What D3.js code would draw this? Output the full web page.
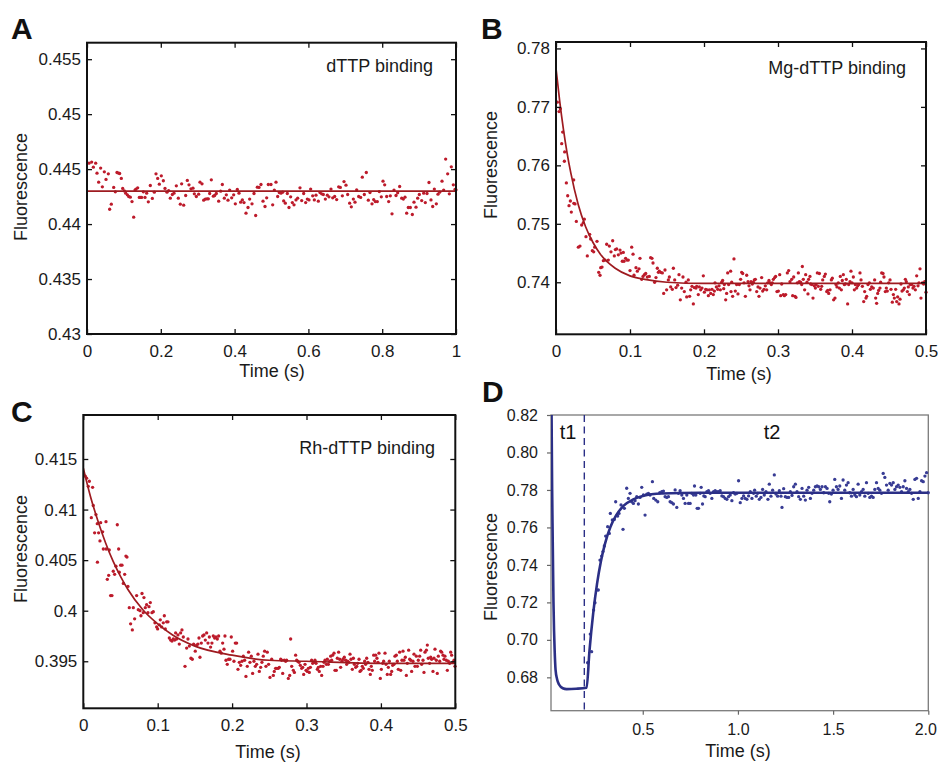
<!DOCTYPE html>
<html><head><meta charset="utf-8">
<script src="https://cdn.jsdelivr.net/npm/d3@7"></script>
<style>
body{margin:0;background:#fff}
svg{display:block}
text{font-family:"Liberation Sans",Arial,Helvetica,sans-serif}
</style>
</head><body>
<svg id="chart" width="938" height="762"></svg>
<script>
// ---------------- DATA ----------------
// Panel A : dTTP binding
const aTime = [0.0054,0.0126,0.0172,0.0235,0.0271,0.0316,0.0370,0.0416,0.0470,0.0515,
0.0578,0.0614,0.0659,0.0723,0.0768,0.0813,0.0858,0.0885,0.0930,0.0967,
0.1012,0.1048,0.1093,0.1129,0.1174,0.1220,0.1265,0.1301,0.1328,0.1373,
0.1418,0.1454,0.1481,0.1527,0.1572,0.1617,0.1662,0.1716,0.1771,0.1825,
0.1870,0.1915,0.1960,0.2014,0.2069,0.2114,0.2168,0.2213,0.2258,0.2313,
0.2358,0.2421,0.2475,0.2529,0.2565,0.2620,0.2674,0.2719,0.2764,0.2818,
0.2873,0.2909,0.2963,0.3026,0.3062,0.3117,0.3162,0.3207,0.3252,0.3288,
0.3324,0.3369,0.3424,0.3460,0.3505,0.3568,0.3622,0.3668,0.3722,0.3776,
0.3821,0.3866,0.3921,0.3975,0.4020,0.4074,0.4119,0.4164,0.4210,0.4255,
0.4309,0.4363,0.4408,0.4472,0.4526,0.4571,0.4616,0.4661,0.4715,0.4770,
0.4824,0.4869,0.4914,
0.4986,0.5032,0.5077,0.5122,0.5167,0.5212,0.5257,0.5303,0.5330,0.5375,
0.5429,0.5474,0.5519,0.5565,0.5610,0.5664,0.5709,0.5772,0.5818,0.5872,
0.5926,0.5971,0.6016,0.6061,0.6116,0.6161,0.6206,0.6269,0.6314,0.6359,
0.6405,0.6459,0.6513,0.6558,0.6612,0.6658,0.6712,0.6766,0.6820,0.6865,
0.6920,0.6965,0.7019,0.7064,0.7118,0.7163,0.7218,0.7263,0.7308,0.7362,
0.7416,0.7461,0.7516,0.7570,0.7624,0.7669,0.7724,0.7769,0.7814,0.7868,
0.7922,0.7976,0.8022,0.8067,0.8121,0.8175,0.8220,0.8266,0.8320,0.8374,
0.8419,0.8473,0.8528,0.8573,0.8618,0.8663,0.8708,0.8762,0.8817,0.8862,
0.8916,0.8961,0.9006,0.9070,0.9124,0.9169,0.9214,0.9268,0.9322,0.9368,
0.9413,0.9467,0.9512,0.9557,0.9621,0.9666,0.9720,0.9774,0.9819,0.9873,
0.9928,0.9973,1.0000];
const aFluor = [0.44554,0.44564,0.44518,0.44554,0.44463,0.44381,0.44509,0.44339,0.44475,0.44406,
0.44457,0.44135,0.44181,0.44333,0.44293,0.44469,0.44463,0.44460,0.44415,0.44324,
0.44302,0.44281,0.44266,0.44251,0.44245,0.44205,0.44063,0.44309,0.44318,0.44330,
0.44242,0.44242,0.44242,0.44293,0.44242,0.44281,0.44202,0.44351,0.44233,0.44290,
0.44457,0.44415,0.44363,0.44439,0.44394,0.44324,0.44290,0.44305,0.44236,0.44269,
0.44281,0.44348,0.44236,0.44181,0.44366,0.44172,0.44260,0.44397,0.44357,0.44321,
0.44327,0.44275,0.44251,0.44272,0.44381,0.44366,0.44217,0.44227,0.44230,0.44230,
0.44278,0.44403,0.44254,0.44260,0.44278,0.44208,0.44299,0.44360,0.44236,0.44266,
0.44217,0.44309,0.44239,0.44266,0.44184,0.44315,0.44281,0.44199,0.44220,0.44196,
0.44099,0.44151,0.44227,0.44184,0.44278,0.44078,0.44336,0.44333,0.44360,0.44208,
0.44160,0.44239,0.44360,
0.44360,0.44175,0.44309,0.44381,0.44251,0.44287,0.44281,0.44290,0.44211,0.44190,
0.44278,0.44151,0.44248,0.44196,0.44175,0.44220,0.44236,0.44330,0.44214,0.44278,
0.44196,0.44227,0.44220,0.44318,0.44257,0.44220,0.44263,0.44208,0.44287,0.44275,
0.44269,0.44227,0.44263,0.44248,0.44318,0.44239,0.44251,0.44223,0.44339,0.44333,
0.44257,0.44387,0.44354,0.44269,0.44190,0.44157,0.44227,0.44199,0.44312,0.44251,
0.44242,0.44427,0.44269,0.44469,0.44217,0.44287,0.44184,0.44223,0.44205,0.44205,
0.44296,0.44248,0.44390,0.44357,0.44251,0.44205,0.44257,0.44093,0.44309,0.44260,
0.44284,0.44342,0.44236,0.44227,0.44245,0.44099,0.44151,0.44151,0.44087,0.44199,
0.44154,0.44236,0.44269,0.44214,0.44281,0.44196,0.44278,0.44378,0.44220,0.44160,
0.44318,0.44184,0.44272,0.44290,0.44390,0.44309,0.44591,0.44457,0.44275,0.44521,
0.44357,0.44315,0.44312];
const aFitTime = [0, 1];
const aFitFluor = [0.443, 0.443];
const aXTicks = [0, 0.2, 0.4, 0.6, 0.8, 1];
const aYTicks = [0.43, 0.435, 0.44, 0.445, 0.45, 0.455];

// Panel B : Mg-dTTP binding
const bTime = [0.0018,0.0041,0.0059,0.0077,0.0090,0.0113,0.0117,0.0140,0.0158,0.0176,
0.0194,0.0207,0.0239,0.0241,0.0257,0.0275,0.0302,0.0324,0.0347,0.0369,
0.0383,0.0405,0.0423,0.0455,0.0468,0.0491,0.0509,0.0523,0.0554,0.0577,
0.0595,0.0604,0.0622,0.0640,0.0662,0.0685,0.0707,0.0721,0.0743,0.0766,
0.0788,0.0802,0.0820,0.0842,0.0865,0.0878,0.0896,0.0910,0.0919,0.0941,
0.0959,0.0977,0.1000,0.1023,0.1041,0.1054,0.1081,0.1099,0.1122,0.1135,
0.1158,0.1176,0.1194,0.1212,0.1234,0.1261,0.1279,0.1297,0.1311,0.1333,
0.1351,0.1369,0.1383,0.1396,0.1414,0.1437,0.1455,0.1473,0.1495,0.1518,
0.1532,0.1550,0.1572,0.1586,0.1604,0.1622,0.1644,0.1662,0.1680,0.1698,
0.1716,0.1734,0.1757,0.1766,0.1788,0.1806,0.1820,0.1838,0.1856,0.1869,
0.1892,0.1901,0.1923,0.1937,0.1955,0.1973,0.1991,0.2005,0.2023,0.2041,
0.2059,0.2072,0.2090,0.2108,0.2126,0.2140,0.2149,0.2167,0.2185,0.2203,
0.2221,0.2239,0.2252,0.2266,0.2275,0.2293,0.2306,0.2320,0.2333,
0.2360,0.2365,0.2374,0.2387,0.2405,0.2423,0.2441,0.2459,0.2477,0.2495,
0.2509,0.2523,0.2541,0.2559,0.2577,0.2595,0.2608,0.2622,0.2635,0.2653,
0.2667,0.2680,0.2694,0.2712,0.2730,0.2743,0.2757,0.2779,0.2793,0.2811,
0.2829,0.2847,0.2860,0.2878,0.2892,0.2910,0.2923,0.2937,0.2955,0.2968,
0.2986,0.3005,0.3023,0.3036,0.3050,0.3072,0.3086,0.3104,0.3126,0.3144,
0.3162,0.3185,0.3198,0.3212,0.3230,0.3243,0.3261,0.3275,0.3288,0.3306,
0.3320,0.3329,0.3342,0.3360,0.3374,0.3392,0.3405,0.3414,0.3432,0.3441,
0.3459,0.3473,0.3491,0.3505,0.3514,0.3532,0.3545,0.3559,0.3577,0.3590,
0.3604,0.3626,0.3640,0.3658,0.3671,0.3685,0.3703,0.3721,0.3734,0.3752,
0.3770,0.3784,0.3797,0.3815,0.3829,0.3842,0.3856,0.3869,0.3883,0.3896,
0.3910,0.3923,0.3941,0.3955,0.3973,0.3986,0.4000,0.4018,0.4032,0.4045,
0.4063,0.4077,0.4090,0.4108,0.4122,0.4140,0.4158,0.4171,0.4189,0.4198,
0.4216,0.4234,0.4248,0.4266,0.4288,0.4306,0.4320,0.4333,0.4347,0.4360,
0.4378,0.4387,0.4401,0.4419,0.4432,0.4450,0.4464,0.4477,0.4495,0.4514,
0.4527,0.4545,0.4559,0.4572,0.4590,0.4604,0.4617,0.4635,0.4649,0.4662,
0.4676,0.4694,0.4707,0.4721,0.4734,0.4748,0.4761,0.4775,0.4788,0.4806,
0.4824,0.4838,0.4856,0.4874,0.4892,0.4905,0.4919,0.4932,0.4950,0.4968,
0.4982,0.5000];
const bFluor = [0.7708,0.7692,0.7697,0.7637,0.7657,0.7607,0.7623,0.7570,0.7548,0.7531,
0.7539,0.7520,0.7575,0.7535,0.7534,0.7504,0.7460,0.7462,0.7498,0.7502,
0.7508,0.7478,0.7445,0.7482,0.7474,0.7454,0.7452,0.7460,0.7470,0.7417,
0.7412,0.7425,0.7426,0.7437,0.7438,0.7465,0.7438,0.7462,0.7452,0.7471,
0.7445,0.7456,0.7457,0.7447,0.7455,0.7450,0.7436,0.7451,0.7436,0.7441,
0.7438,0.7438,0.7420,0.7460,0.7448,0.7412,0.7425,0.7419,0.7423,0.7441,
0.7405,0.7410,0.7413,0.7415,0.7409,0.7410,0.7442,0.7441,0.7433,0.7400,
0.7408,0.7424,0.7417,0.7419,0.7417,0.7416,0.7381,0.7421,0.7387,0.7404,
0.7409,0.7392,0.7388,0.7424,0.7404,0.7391,0.7395,0.7413,0.7370,0.7390,
0.7409,0.7384,0.7400,0.7375,0.7404,0.7376,0.7387,0.7393,0.7363,0.7391,
0.7390,0.7393,0.7379,0.7392,0.7387,0.7390,0.7411,0.7383,0.7388,0.7387,
0.7377,0.7387,0.7381,0.7388,0.7379,0.7385,0.7399,0.7392,0.7388,0.7394,
0.7387,0.7400,0.7403,0.7389,0.7396,0.7370,0.7381,0.7416,0.7396,
0.7419,0.7384,0.7400,0.7376,0.7440,0.7385,0.7396,0.7380,0.7396,0.7405,
0.7417,0.7415,0.7399,0.7376,0.7412,0.7401,0.7394,0.7387,0.7401,0.7397,
0.7400,0.7404,0.7405,0.7384,0.7392,0.7376,0.7390,0.7408,0.7385,0.7388,
0.7394,0.7387,0.7399,0.7403,0.7399,0.7396,0.7399,0.7405,0.7408,0.7410,
0.7384,0.7385,0.7413,0.7377,0.7397,0.7379,0.7377,0.7379,0.7416,0.7420,
0.7401,0.7405,0.7377,0.7409,0.7376,0.7374,0.7399,0.7416,0.7401,0.7400,
0.7396,0.7427,0.7405,0.7387,0.7413,0.7400,0.7380,0.7405,0.7410,0.7397,
0.7396,0.7373,0.7394,0.7390,0.7396,0.7416,0.7393,0.7415,0.7388,0.7393,
0.7404,0.7410,0.7414,0.7384,0.7386,0.7381,0.7387,0.7404,0.7407,0.7370,
0.7373,0.7396,0.7392,0.7399,0.7390,0.7410,0.7387,0.7403,0.7413,0.7396,
0.7397,0.7405,0.7363,0.7396,0.7401,0.7419,0.7399,0.7409,0.7387,0.7396,
0.7390,0.7394,0.7396,0.7416,0.7404,0.7393,0.7367,0.7384,0.7373,0.7376,
0.7396,0.7399,0.7388,0.7392,0.7390,0.7404,0.7373,0.7364,0.7381,0.7386,
0.7390,0.7400,0.7416,0.7415,0.7409,0.7384,0.7390,0.7385,0.7399,0.7404,
0.7388,0.7366,0.7379,0.7373,0.7388,0.7367,0.7375,0.7363,0.7371,0.7397,
0.7385,0.7387,0.7390,0.7405,0.7401,0.7384,0.7392,0.7379,0.7396,0.7396,
0.7390,0.7393,0.7387,0.7411,0.7394,0.7399,0.7423,0.7373,0.7399,0.7397,
0.7401,0.7383];
const bFitTime  = [0, 0.005, 0.01, 0.015, 0.02, 0.03, 0.04, 0.05, 0.06, 0.08, 0.10, 0.12, 0.15, 0.20, 0.50];
const bFitFluor = [0.7766, 0.7710, 0.7662, 0.7621, 0.7587, 0.7533, 0.7495, 0.7468, 0.7448, 0.7424, 0.7411, 0.7405, 0.7400, 0.7398, 0.7398];
const bXTicks = [0, 0.1, 0.2, 0.3, 0.4, 0.5];
const bYTicks = [0.74, 0.75, 0.76, 0.77, 0.78];

// Panel C : Rh-dTTP binding
const cTime = [0.0027,0.0045,0.0067,0.0081,0.0108,0.0125,0.0134,0.0152,0.0170,0.0188,
0.0190,0.0206,0.0224,0.0233,0.0260,0.0269,0.0305,0.0307,0.0323,0.0341,
0.0349,0.0367,0.0385,0.0403,0.0421,0.0439,0.0457,0.0475,0.0484,0.0502,
0.0520,0.0538,0.0556,0.0573,0.0587,0.0600,0.0618,0.0636,0.0659,0.0672,
0.0690,0.0717,0.0739,0.0762,0.0775,0.0789,0.0806,0.0815,0.0833,0.0851,
0.0869,0.0883,0.0901,0.0923,0.0941,0.0963,0.0986,0.0999,0.1022,0.1035,
0.1053,0.1075,0.1089,0.1102,0.1120,0.1138,0.1156,0.1174,0.1192,0.1210,
0.1228,0.1241,0.1254,0.1272,0.1290,0.1308,0.1326,0.1344,0.1367,0.1389,
0.1407,0.1425,0.1447,0.1465,0.1483,0.1505,0.1523,0.1541,0.1555,0.1568,
0.1586,0.1604,0.1622,0.1640,0.1658,0.1676,0.1694,0.1711,0.1729,0.1747,
0.1765,0.1783,0.1801,0.1819,0.1837,0.1855,0.1873,0.1891,0.1904,0.1918,
0.1935,0.1953,0.1971,0.1989,0.2007,0.2025,0.2043,0.2061,0.2079,0.2097,
0.2115,0.2133,0.2151,0.2168,0.2186,0.2204,0.2222,0.2240,0.2258,0.2276,
0.2294,0.2312,0.2330,0.2348,0.2366,0.2384,0.2401,0.2419,0.2437,0.2455,
0.2473,0.2491,
0.2509,0.2532,0.2554,0.2567,0.2585,0.2603,0.2621,0.2635,0.2653,0.2666,
0.2680,0.2702,0.2720,0.2733,0.2756,0.2774,0.2787,0.2801,0.2823,0.2837,
0.2854,0.2868,0.2881,0.2899,0.2917,0.2935,0.2949,0.2962,0.2980,0.2994,
0.3011,0.3025,0.3038,0.3052,0.3069,0.3083,0.3101,0.3114,0.3128,0.3146,
0.3159,0.3172,0.3190,0.3204,0.3222,0.3235,0.3249,0.3267,0.3280,0.3294,
0.3311,0.3325,0.3338,0.3352,0.3370,0.3383,0.3401,0.3414,0.3432,0.3446,
0.3459,0.3477,0.3490,0.3508,0.3526,0.3540,0.3553,0.3571,0.3585,0.3598,
0.3616,0.3630,0.3643,0.3661,0.3675,0.3688,0.3706,0.3719,0.3733,0.3750,
0.3764,0.3782,0.3795,0.3809,0.3827,0.3840,0.3858,0.3871,0.3884,0.3903,
0.3916,0.3929,0.3947,0.3961,0.3974,0.3992,0.4006,0.4024,0.4037,0.4055,
0.4069,0.4086,0.4100,0.4113,0.4131,0.4145,0.4158,0.4176,0.4189,0.4207,
0.4221,0.4234,0.4252,0.4266,0.4283,0.4297,0.4310,0.4328,0.4342,0.4355,
0.4373,0.4387,0.4400,0.4413,0.4431,0.4445,0.4458,0.4476,0.4490,0.4503,
0.4521,0.4535,0.4548,0.4566,0.4579,0.4593,0.4611,0.4624,0.4637,0.4655,
0.4669,0.4682,0.4700,0.4714,0.4727,0.4745,0.4758,0.4772,0.4790,0.4803,
0.4817,0.4835,0.4848,0.4861,0.4879,0.4893,0.4906,0.4924,0.4938,0.4951,
0.4969,0.4983,0.4996];
const cFluor = [0.4133,0.4131,0.4123,0.4128,0.4092,0.4122,0.4104,0.4077,0.4095,0.4086,
0.4048,0.4077,0.4069,0.4087,0.4078,0.4061,0.4088,0.4061,0.4031,0.4035,
0.4060,0.4015,0.4015,0.4039,0.4036,0.4044,0.4085,0.4061,0.4038,0.4045,
0.4045,0.4027,0.4036,0.4054,0.4053,0.4024,0.4003,0.3987,0.3981,0.4003,
0.3992,0.4015,0.4001,0.4000,0.3995,0.4017,0.3998,0.4013,0.4003,0.4006,
0.3998,0.4004,0.4008,0.3998,0.3999,0.3988,0.3984,0.3982,0.3986,0.3991,
0.3984,0.3988,0.3995,0.3982,0.3989,0.3989,0.3973,0.3971,0.3970,0.3972,
0.3971,0.3978,0.3972,0.3976,0.3967,0.3978,0.3981,0.3974,0.3945,0.3963,
0.3972,0.3965,0.3953,0.3952,0.3967,0.3960,0.3966,0.3967,0.3973,0.3954,
0.3968,0.3975,0.3976,0.3971,0.3978,0.3968,0.3974,0.3964,0.3968,0.3975,
0.3973,0.3974,0.3972,0.3975,0.3960,0.3958,0.3968,0.3962,0.3975,0.3951,
0.3947,0.3952,0.3952,0.3974,0.3960,0.3950,0.3968,0.3968,0.3942,0.3949,
0.3946,0.3950,0.3955,0.3951,0.3935,0.3945,0.3959,0.3949,0.3955,0.3938,
0.3950,0.3945,0.3947,0.3957,0.3940,0.3944,0.3949,0.3955,0.3960,0.3945,
0.3959,0.3947,
0.3934,0.3952,0.3936,0.3940,0.3943,0.3943,0.3943,0.3944,0.3952,0.3951,
0.3938,0.3951,0.3950,0.3951,0.3933,0.3936,0.3972,0.3945,0.3941,0.3939,
0.3956,0.3951,0.3950,0.3949,0.3946,0.3943,0.3944,0.3937,0.3947,0.3941,
0.3940,0.3943,0.3939,0.3944,0.3951,0.3948,0.3949,0.3951,0.3948,0.3942,
0.3944,0.3940,0.3945,0.3936,0.3945,0.3949,0.3951,0.3947,0.3952,0.3947,
0.3950,0.3955,0.3951,0.3956,0.3958,0.3941,0.3941,0.3953,0.3959,0.3952,
0.3944,0.3950,0.3952,0.3954,0.3951,0.3947,0.3950,0.3949,0.3957,0.3952,
0.3942,0.3953,0.3947,0.3944,0.3945,0.3948,0.3952,0.3940,0.3941,0.3945,
0.3943,0.3950,0.3947,0.3953,0.3949,0.3942,0.3937,0.3945,0.3941,0.3956,
0.3950,0.3956,0.3953,0.3949,0.3958,0.3933,0.3942,0.3948,0.3950,0.3958,
0.3947,0.3937,0.3944,0.3950,0.3937,0.3940,0.3946,0.3947,0.3955,0.3956,
0.3950,0.3942,0.3959,0.3941,0.3951,0.3960,0.3951,0.3954,0.3936,0.3948,
0.3961,0.3952,0.3951,0.3940,0.3950,0.3957,0.3945,0.3955,0.3945,0.3951,
0.3955,0.3961,0.3947,0.3951,0.3939,0.3959,0.3961,0.3966,0.3953,0.3948,
0.3954,0.3952,0.3940,0.3953,0.3962,0.3951,0.3938,0.3955,0.3950,0.3960,
0.3959,0.3956,0.3952,0.3955,0.3951,0.3941,0.3950,0.3948,0.3959,0.3956,
0.3949,0.3951,0.3945];
const cFitTime  = [0, 0.01, 0.02, 0.03, 0.04, 0.05, 0.06, 0.08, 0.10, 0.12, 0.15, 0.20, 0.25, 0.30, 0.40, 0.50];
const cFitFluor = [0.4141, 0.4112, 0.4088, 0.4067, 0.4049, 0.4034, 0.4021, 0.4001, 0.3987, 0.3976, 0.3965, 0.3956, 0.3951, 0.3950, 0.3948, 0.3948];
const cXTicks = [0, 0.1, 0.2, 0.3, 0.4, 0.5];
const cYTicks = [0.395, 0.4, 0.405, 0.41, 0.415];

// Panel D : two-step (t1 / t2)
const dTime = [0.2104,0.2244,0.2314,0.2419,0.2490,0.2577,0.2665,0.2753,0.2840,0.2911,
0.2981,0.3051,0.3156,0.3244,0.3297,0.3402,0.3507,0.3577,0.3683,0.3753,
0.3858,0.3963,0.4034,0.4156,0.4244,0.4332,0.4420,0.4507,0.4595,0.4683,
0.4770,0.4858,0.4946,0.5034,0.5121,0.5209,0.5297,0.5384,0.5507,0.5577,
0.5683,0.5788,0.5893,0.5999,0.6086,0.6174,0.6262,0.6349,0.6437,0.6525,
0.6612,0.6700,0.6788,0.6875,0.6963,0.7051,0.7139,0.7226,0.7314,0.7402,
0.7489,0.7577,0.7665,0.7718,0.7788,0.7858,0.7928,0.8016,0.8069,0.8139,
0.8209,0.8279,0.8367,0.8454,0.8542,0.8630,0.8718,0.8805,0.8893,0.8981,
0.9068,0.9156,0.9244,0.9332,0.9419,0.9507,0.9595,0.9682,0.9770,0.9858,
0.9946,1.0033,1.0121,1.0209,1.0297,1.0384,1.0472,1.0560,1.0647,1.0735,
1.0823,
1.0876,1.0963,1.1033,1.1121,1.1209,1.1296,1.1384,1.1472,1.1577,1.1647,
1.1735,1.1823,1.1911,1.1998,1.2086,1.2174,1.2261,1.2314,1.2402,1.2489,
1.2577,1.2665,1.2753,1.2840,1.2928,1.3016,1.3103,1.3191,1.3279,1.3367,
1.3454,1.3542,1.3630,1.3717,1.3805,1.3893,1.3981,1.4068,1.4156,1.4244,
1.4331,1.4419,1.4507,1.4595,1.4682,1.4770,1.4823,1.4910,1.4998,1.5086,
1.5174,1.5261,1.5349,1.5437,1.5524,1.5612,1.5700,1.5788,1.5875,1.5963,
1.6051,1.6138,1.6226,1.6314,1.6402,1.6489,1.6577,1.6665,1.6752,1.6840,
1.6928,1.7016,1.7103,1.7191,1.7279,1.7367,1.7454,1.7542,1.7630,1.7717,
1.7805,1.7893,1.7981,1.8068,1.8156,1.8244,1.8331,1.8419,1.8507,1.8595,
1.8682,1.8770,1.8858,1.8946,1.9033,1.9121,1.9209,1.9296,1.9384,1.9472,
1.9560,1.9647,1.9735,1.9823,1.9910,1.9998];
const dFluor = [0.6878,0.7031,0.6937,0.7159,0.7198,0.7266,0.7266,0.7426,0.7447,0.7471,
0.7501,0.7554,0.7604,0.7568,0.7675,0.7640,0.7643,0.7737,0.7661,0.7675,
0.7720,0.7590,0.7702,0.7809,0.7755,0.7782,0.7737,0.7728,0.7743,0.7764,
0.7725,0.7760,0.7814,0.7773,0.7666,0.7778,0.7782,0.7773,0.7844,0.7755,
0.7746,0.7737,0.7785,0.7791,0.7794,0.7764,0.7760,0.7764,0.7737,0.7732,
0.7725,0.7800,0.7707,0.7782,0.7796,0.7773,0.7755,0.7728,0.7773,0.7728,
0.7728,0.7782,0.7773,0.7821,0.7773,0.7702,0.7702,0.7782,0.7814,0.7725,
0.7768,0.7764,0.7791,0.7796,0.7782,0.7755,0.7791,0.7796,0.7791,0.7791,
0.7796,0.7768,0.7764,0.7755,0.7750,0.7764,0.7773,0.7743,0.7785,0.7778,
0.7782,0.7849,0.7732,0.7755,0.7768,0.7755,0.7750,0.7768,0.7791,0.7755,
0.7782,
0.7799,0.7767,0.7782,0.7750,0.7760,0.7803,0.7773,0.7791,0.7750,0.7831,
0.7767,0.7799,0.7880,0.7778,0.7767,0.7796,0.7767,0.7707,0.7807,0.7764,
0.7760,0.7760,0.7791,0.7771,0.7817,0.7831,0.7791,0.7764,0.7750,0.7808,
0.7767,0.7746,0.7799,0.7814,0.7755,0.7782,0.7799,0.7817,0.7821,0.7817,
0.7803,0.7817,0.7785,0.7817,0.7808,0.7782,0.7737,0.7778,0.7799,0.7856,
0.7817,0.7803,0.7821,0.7755,0.7853,0.7799,0.7826,0.7839,0.7785,0.7767,
0.7803,0.7773,0.7764,0.7831,0.7773,0.7791,0.7803,0.7767,0.7839,0.7782,
0.7760,0.7767,0.7760,0.7803,0.7839,0.7808,0.7799,0.7782,0.7888,0.7867,
0.7826,0.7799,0.7835,0.7826,0.7839,0.7803,0.7817,0.7826,0.7814,0.7791,
0.7817,0.7849,0.7808,0.7791,0.7803,0.7782,0.7750,0.7856,0.7862,0.7755,
0.7791,0.7849,0.7844,0.7874,0.7892,0.7785];
const dFitTime  = [0.0180, 0.0210, 0.0240, 0.0260, 0.0280, 0.0310, 0.0340, 0.0370, 0.0420, 0.0500, 0.0600, 0.0800, 0.1000, 0.1500, 0.2050,
                   0.2200, 0.2400, 0.2600, 0.2800, 0.3000, 0.3300, 0.3600, 0.4000, 0.4500, 0.5000, 0.6000, 0.8000, 1.2000, 2.0000];
const dFitFluor = [0.8900, 0.8200, 0.7800, 0.7620, 0.7450, 0.7200, 0.7050, 0.6950, 0.6840, 0.6790, 0.6762, 0.6742, 0.6737, 0.6739, 0.6745,
                   0.6940, 0.7145, 0.7300, 0.7418, 0.7507, 0.7602, 0.7664, 0.7716, 0.7750, 0.7768, 0.7781, 0.7785, 0.7785, 0.7785];
const dSwitchTime = 0.193;
const dXTicks = [0.5, 1.0, 1.5, 2.0];
const dYTicks = [0.68, 0.70, 0.72, 0.74, 0.76, 0.78, 0.80, 0.82];

// ---------------- DRAWING ----------------
const FONT = '"Liberation Sans", Arial, Helvetica, sans-serif';
const RED_PT = "#bd1b2b", RED_LN = "#9e1b20";
const BLUE_PT = "#383c94", BLUE_LN = "#2b2f86";
const DOT_R = 1.65;
const svg = d3.select("#chart");
const defs = svg.append("defs");

function pairs(ts, vs) { return ts.map((t, i) => [t, vs[i]]).filter(d => d[1] !== undefined); }

function boxPanel(o) {
  const x = d3.scaleLinear().domain(o.xDomain).range([o.left, o.right]);
  const y = d3.scaleLinear().domain(o.yDomain).range([o.bottom, o.top]);
  const g = svg.append("g");
  defs.append("clipPath").attr("id", "clip" + o.id)
    .append("rect").attr("x", o.left).attr("y", o.top)
    .attr("width", o.right - o.left).attr("height", o.bottom - o.top);

  g.append("g").selectAll("circle").data(pairs(o.time, o.fluor)).join("circle")
    .attr("cx", d => x(d[0])).attr("cy", d => y(d[1])).attr("r", DOT_R).attr("fill", RED_PT);

  g.append("path").datum(pairs(o.fitTime, o.fitFluor))
    .attr("clip-path", `url(#clip${o.id})`)
    .attr("fill", "none").attr("stroke", RED_LN).attr("stroke-width", 1.7)
    .attr("d", d3.line().x(d => x(d[0])).y(d => y(d[1])).curve(d3.curveMonotoneX));

  const style = sel => {
    sel.select(".domain").remove();
    sel.selectAll(".tick line").attr("stroke", "#111").attr("stroke-width", 1.3);
    sel.selectAll("text").attr("fill", "#1a1a1a").attr("font-size", 17).attr("font-family", FONT);
  };
  g.append("g").attr("transform", `translate(${o.left},0)`)
    .call(d3.axisLeft(y).tickValues(o.yTicks).tickSize(-5).tickPadding(6).tickFormat(o.yFmt)).call(style);
  g.append("g").attr("transform", `translate(${o.right},0)`)
    .call(d3.axisRight(y).tickValues(o.yTicks).tickSize(-5).tickFormat("")).call(style);
  g.append("g").attr("transform", `translate(0,${o.bottom})`)
    .call(d3.axisBottom(x).tickValues(o.xTicks).tickSize(-5).tickPadding(11).tickFormat(o.xFmt)).call(style);
  g.append("g").attr("transform", `translate(0,${o.top})`)
    .call(d3.axisTop(x).tickValues(o.xTicks).tickSize(-5).tickFormat("")).call(style);

  g.append("rect").attr("x", o.left).attr("y", o.top)
    .attr("width", o.right - o.left).attr("height", o.bottom - o.top)
    .attr("fill", "none").attr("stroke", "#111").attr("stroke-width", 2);

  g.append("text").attr("transform", `translate(${o.yLabelX},${o.yLabelY}) rotate(-90)`)
    .attr("text-anchor", "middle").attr("font-size", 18).attr("fill", "#1a1a1a").text("Fluorescence");
  g.append("text").attr("x", o.xLabelX).attr("y", o.xLabelY)
    .attr("text-anchor", "middle").attr("font-size", 18).attr("fill", "#1a1a1a").text("Time (s)");
  g.append("text").attr("x", o.noteX).attr("y", o.noteY)
    .attr("text-anchor", "end").attr("font-size", 18).attr("fill", "#1a1a1a").text(o.note);
  g.append("text").attr("x", o.letterX).attr("y", o.letterY)
    .attr("font-size", 30).attr("font-weight", "bold").attr("fill", "#111").text(o.letter);
}

const f3 = d3.format(".3~f"), f1 = d3.format(".1~f"), f2 = d3.format(".2f");

boxPanel({id: "A", left: 87, right: 456, top: 42.7, bottom: 334,
  xDomain: [0, 1], yDomain: [0.43, 0.4565],
  time: aTime, fluor: aFluor, fitTime: aFitTime, fitFluor: aFitFluor,
  xTicks: aXTicks, yTicks: aYTicks, xFmt: f1, yFmt: f3,
  yLabelX: 27, yLabelY: 187, xLabelX: 272, xLabelY: 377,
  note: "dTTP binding", noteX: 433, noteY: 72, letter: "A", letterX: 11, letterY: 38.5});

boxPanel({id: "B", left: 556, right: 926, top: 42, bottom: 334.3,
  xDomain: [0, 0.5], yDomain: [0.7311, 0.7811],
  time: bTime, fluor: bFluor, fitTime: bFitTime, fitFluor: bFitFluor,
  xTicks: bXTicks, yTicks: bYTicks, xFmt: f1, yFmt: f2,
  yLabelX: 497, yLabelY: 165, xLabelX: 739, xLabelY: 380,
  note: "Mg-dTTP binding", noteX: 906, noteY: 74, letter: "B", letterX: 481, letterY: 39});

boxPanel({id: "C", left: 83.3, right: 455.3, top: 415, bottom: 708.3,
  xDomain: [0, 0.5], yDomain: [0.39035, 0.41935],
  time: cTime, fluor: cFluor, fitTime: cFitTime, fitFluor: cFitFluor,
  xTicks: cXTicks, yTicks: cYTicks, xFmt: f1, yFmt: f3,
  yLabelX: 27, yLabelY: 549, xLabelX: 268, xLabelY: 758,
  note: "Rh-dTTP binding", noteX: 435, noteY: 454, letter: "C", letterX: 11, letterY: 422});

// Panel D
(function () {
  const L = 551, R = 928.3, T = 415, B = 710.7;
  const x = d3.scaleLinear().domain([0.018, 2.0]).range([L, R]);
  const y = d3.scaleLinear().domain([0.6622, 0.82]).range([B, T]);
  const g = svg.append("g");
  defs.append("clipPath").attr("id", "clipD")
    .append("rect").attr("x", L).attr("y", T).attr("width", R - L).attr("height", B - T);

  g.append("rect").attr("x", L).attr("y", T).attr("width", R - L).attr("height", B - T)
    .attr("fill", "none").attr("stroke", "#7a7a7a").attr("stroke-width", 1.3);

  g.append("line").attr("x1", x(dSwitchTime)).attr("x2", x(dSwitchTime)).attr("y1", T).attr("y2", B)
    .attr("stroke", BLUE_LN).attr("stroke-width", 1.4).attr("stroke-dasharray", "7,4.5");

  g.append("g").selectAll("circle").data(pairs(dTime, dFluor)).join("circle")
    .attr("cx", d => x(d[0])).attr("cy", d => y(d[1])).attr("r", DOT_R).attr("fill", BLUE_PT);

  g.append("path").datum(pairs(dFitTime, dFitFluor))
    .attr("clip-path", "url(#clipD)")
    .attr("fill", "none").attr("stroke", BLUE_LN).attr("stroke-width", 2.6)
    .attr("d", d3.line().x(d => x(d[0])).y(d => y(d[1])).curve(d3.curveMonotoneX));

  const style = sel => {
    sel.select(".domain").remove();
    sel.selectAll(".tick line").attr("stroke", "#666").attr("stroke-width", 1.2);
    sel.selectAll("text").attr("fill", "#1a1a1a").attr("font-size", 16).attr("font-family", FONT);
  };
  g.append("g").attr("transform", `translate(${L},0)`)
    .call(d3.axisLeft(y).tickValues(dYTicks).tickSize(4).tickPadding(9).tickFormat(f2)).call(style);
  const xAx = g.append("g").attr("transform", `translate(0,${B})`)
    .call(d3.axisBottom(x).tickValues(dXTicks).tickSize(4).tickPadding(9).tickFormat(d3.format(".1f"))).call(style);
  // keep the last label ("2.0") inside the picture, as in the reference
  xAx.selectAll(".tick text").filter(d => d === 2.0).attr("dx", -3);

  g.append("text").attr("transform", `translate(497,567) rotate(-90)`)
    .attr("text-anchor", "middle").attr("font-size", 18).attr("fill", "#1a1a1a").text("Fluorescence");
  g.append("text").attr("x", 738).attr("y", 757)
    .attr("text-anchor", "middle").attr("font-size", 18).attr("fill", "#1a1a1a").text("Time (s)");
  g.append("text").attr("x", 568).attr("y", 439).attr("text-anchor", "middle")
    .attr("font-size", 20).attr("fill", "#111").text("t1");
  g.append("text").attr("x", 772).attr("y", 439).attr("text-anchor", "middle")
    .attr("font-size", 20).attr("fill", "#111").text("t2");
  g.append("text").attr("x", 482).attr("y", 402).attr("font-size", 30)
    .attr("font-weight", "bold").attr("fill", "#111").text("D");
})();
</script>
</body></html>
